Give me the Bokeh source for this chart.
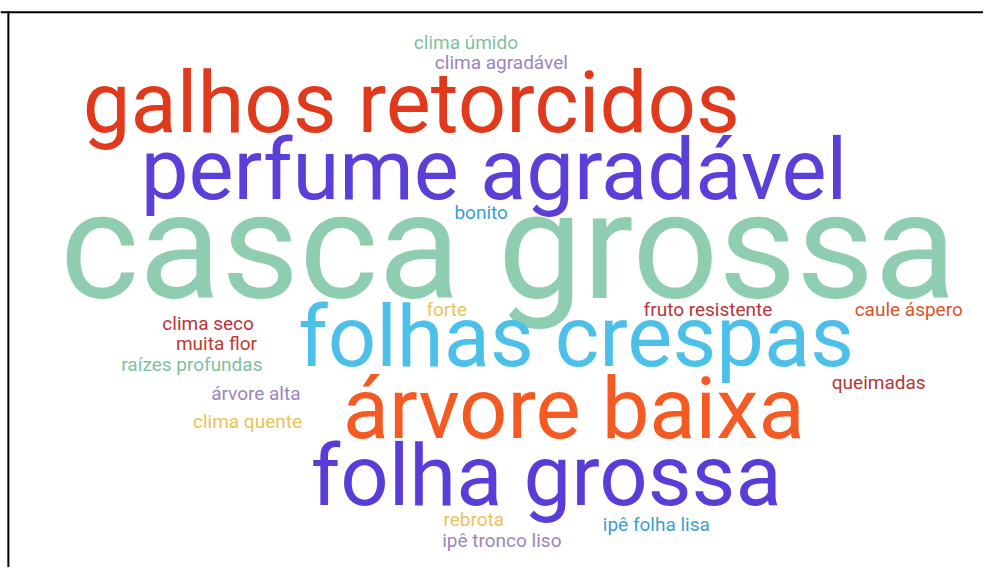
from bokeh.plotting import figure
from bokeh.models import Range1d, ColumnDataSource, Span
from bokeh.core.properties import value
from bokeh.embed import file_html
from bokeh.resources import INLINE

# Word cloud data: terms and their frequencies
words = ["casca grossa", "galhos retorcidos", "perfume agradável", "folhas crespas",
         "árvore baixa", "folha grossa", "clima úmido", "clima agradável", "bonito",
         "forte", "fruto resistente", "caule áspero", "clima seco", "muita flor",
         "raízes profundas", "queimadas", "árvore alta", "clima quente", "rebrota",
         "ipê folha lisa", "ipê tronco liso"]
freqs = [7, 4, 4, 4, 4, 4, 1, 1, 1, 1, 1, 1, 1, 1, 1, 1, 1, 1, 1, 1, 1]

# Layout (reference pixel positions: centre x, baseline y) and colours
pos_x = [516, 417.5, 501.5, 585, 582.5, 554.5, 473, 509, 488.5,
         453.5, 719, 923, 211, 219.5, 194.5, 892.5, 259.5, 251, 481, 666.5, 509.5]
pos_y = [300, 132, 200, 372, 446, 515, 49, 70, 224,
         324, 324, 324, 338, 359, 380, 399, 410, 439, 539, 545, 561]
colors = ["#8fcdb0", "#e0391c", "#5b3fd8", "#4cc0e8", "#f55a22", "#5a3dd8",
          "#7fbf9f", "#9b85c0", "#3a9fd0", "#e8c35a", "#b5363a", "#d9532b",
          "#b83236", "#c0392b", "#7fbf9f", "#b5363a", "#9b85c0", "#e8c35a",
          "#e8c35a", "#3a9fd0", "#9a87b8"]

W, H = 983, 567
REF_W, REF_H = 999, 583

def font_px(f):
    return 19 + (f - 1) * 22.0

sizes_px = [font_px(f) for f in freqs]
sizes = ["%.1fpx" % s for s in sizes_px]
# Bokeh's alphabetic anchor sits ~0.3em above the drawn baseline: compensate
anchor_y = [y - 0.30 * s * REF_H / H for y, s in zip(pos_y, sizes_px)]

src = ColumnDataSource(dict(x=pos_x, y=anchor_y, text=words, color=colors, size=sizes))

p = figure(width=W, height=H, output_backend="svg", toolbar_location=None,
           x_range=Range1d(0, REF_W), y_range=Range1d(REF_H, 0),
           min_border=0, outline_line_color=None, background_fill_color="white",
           border_fill_color="white")
p.axis.visible = False
p.grid.visible = False

# frame: top edge spans the view, left edge starts at the corner
p.add_layout(Span(location=12, dimension="width", line_color="black", line_width=2))
p.segment(x0=[8], y0=[11], x1=[8], y1=[REF_H], line_color="black", line_width=2)

p.text(x="x", y="y", text="text", source=src, text_color="color",
       text_font_size="size", text_font=value("Roboto"),
       text_align="center", text_baseline="alphabetic")

open("out.html", "w").write(file_html(p, INLINE))
